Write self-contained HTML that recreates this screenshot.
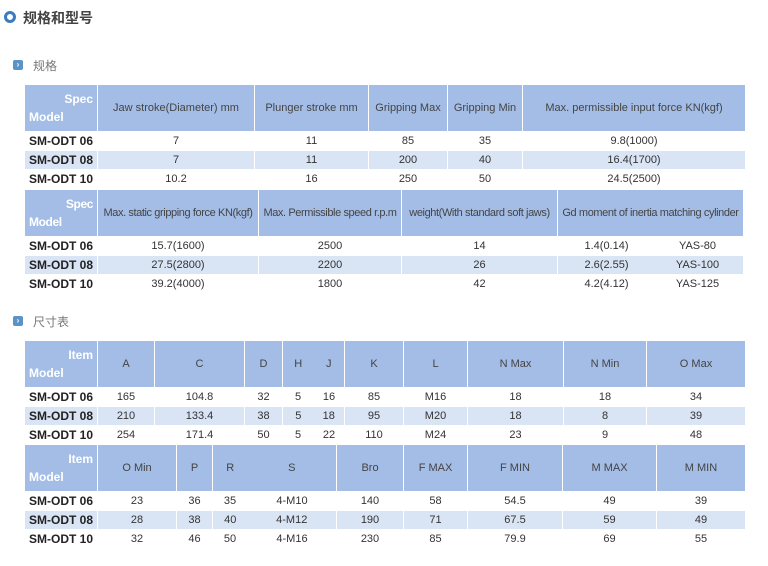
<!DOCTYPE html>
<html><head><meta charset="utf-8"><style>
body{margin:0;width:768px;height:566px;background:#fff;position:relative;font-family:"Liberation Sans","Noto Sans CJK SC",sans-serif;overflow:hidden}
.t{position:absolute;left:24px;border-collapse:collapse;table-layout:fixed;font-size:11px;color:#333}
.t td{border:1px solid #fff;padding:0;text-align:center;white-space:nowrap;overflow:hidden}
.t tr.h td{background:#a3bde6;height:46px;color:#444}
.t tr.r td{height:18px}
.t tr.s td{background:#d9e4f5}
.t td.m{font-weight:bold;font-size:12px;color:#222;text-align:left;padding-left:4px}
.t tr.h td.m{color:#fff;text-align:left;padding:0 4px;line-height:18px}
.t2 tr.h td{letter-spacing:-0.4px}
.hd{position:absolute;font-size:12px;color:#777}
.ic{position:absolute;width:10px;height:10px;background:#5b93c6;border-radius:2px;color:#fff;font-size:8px;line-height:10px;text-align:center;font-weight:bold}
</style></head><body>
<div style="position:absolute;left:4px;top:11px;width:6px;height:6px;border:3px solid #3b7cc0;border-radius:50%"></div>
<div style="position:absolute;left:23px;top:8px;font-size:14px;font-weight:bold;color:#444">规格和型号</div>
<div class="ic" style="left:13px;top:60px">›</div><div class="hd" style="left:33px;top:57px">规格</div>
<div class="ic" style="left:13px;top:316px">›</div><div class="hd" style="left:33px;top:313px">尺寸表</div>

<table class="t" style="top:84px;width:722px">
<colgroup><col style="width:73px"><col style="width:157px"><col style="width:114px"><col style="width:79px"><col style="width:75px"><col></colgroup>
<tr class="h"><td class="m"><div style="text-align:right">Spec</div>Model</td><td>Jaw stroke(Diameter) mm</td><td>Plunger stroke mm</td><td>Gripping Max</td><td>Gripping Min</td><td>Max. permissible input force KN(kgf)</td></tr>
<tr class="r"><td class="m">SM-ODT 06</td><td>7</td><td>11</td><td>85</td><td>35</td><td>9.8(1000)</td></tr>
<tr class="r s"><td class="m">SM-ODT 08</td><td>7</td><td>11</td><td>200</td><td>40</td><td>16.4(1700)</td></tr>
<tr class="r"><td class="m">SM-ODT 10</td><td>10.2</td><td>16</td><td>250</td><td>50</td><td>24.5(2500)</td></tr>
</table>

<table class="t t2" style="top:189px;width:720px">
<colgroup><col style="width:73px"><col style="width:161px"><col style="width:143px"><col style="width:156px"><col></colgroup>
<tr class="h"><td class="m"><div style="text-align:right">Spec</div>Model</td><td>Max. static gripping force KN(kgf)</td><td>Max. Permissible speed r.p.m</td><td>weight(With standard soft jaws)</td><td><span>Gd moment of inertia</span> <span>matching cylinder</span></td></tr>
<tr class="r"><td class="m">SM-ODT 06</td><td>15.7(1600)</td><td>2500</td><td>14</td><td><span style="display:inline-block;width:94px">1.4(0.14)</span><span style="display:inline-block;width:88px">YAS-80</span></td></tr>
<tr class="r s"><td class="m">SM-ODT 08</td><td>27.5(2800)</td><td>2200</td><td>26</td><td><span style="display:inline-block;width:94px">2.6(2.55)</span><span style="display:inline-block;width:88px">YAS-100</span></td></tr>
<tr class="r"><td class="m">SM-ODT 10</td><td>39.2(4000)</td><td>1800</td><td>42</td><td><span style="display:inline-block;width:94px">4.2(4.12)</span><span style="display:inline-block;width:88px">YAS-125</span></td></tr>
</table>

<table class="t" style="top:340px;width:722px">
<colgroup><col style="width:73px"><col style="width:57px"><col style="width:90px"><col style="width:38px"><col style="width:31px"><col style="width:31px"><col style="width:59px"><col style="width:64px"><col style="width:96px"><col style="width:83px"><col></colgroup>
<tr class="h"><td class="m"><div style="text-align:right">Item</div>Model</td><td>A</td><td>C</td><td>D</td><td style="border-right:0">H</td><td style="border-left:0">J</td><td>K</td><td>L</td><td>N Max</td><td>N Min</td><td>O Max</td></tr>
<tr class="r"><td class="m">SM-ODT 06</td><td>165</td><td>104.8</td><td>32</td><td>5</td><td>16</td><td>85</td><td>M16</td><td>18</td><td>18</td><td>34</td></tr>
<tr class="r s"><td class="m">SM-ODT 08</td><td>210</td><td>133.4</td><td>38</td><td style="border-right:0">5</td><td style="border-left:0">18</td><td>95</td><td>M20</td><td>18</td><td>8</td><td>39</td></tr>
<tr class="r"><td class="m">SM-ODT 10</td><td>254</td><td>171.4</td><td>50</td><td>5</td><td>22</td><td>110</td><td>M24</td><td>23</td><td>9</td><td>48</td></tr>
</table>

<table class="t" style="top:444px;width:722px">
<colgroup><col style="width:73px"><col style="width:79px"><col style="width:36px"><col style="width:35px"><col style="width:89px"><col style="width:67px"><col style="width:64px"><col style="width:95px"><col style="width:94px"><col></colgroup>
<tr class="h"><td class="m"><div style="text-align:right">Item</div>Model</td><td>O Min</td><td>P</td><td style="border-right:0">R</td><td style="border-left:0">S</td><td>Bro</td><td>F MAX</td><td>F MIN</td><td>M MAX</td><td>M MIN</td></tr>
<tr class="r"><td class="m">SM-ODT 06</td><td>23</td><td>36</td><td>35</td><td>4-M10</td><td>140</td><td>58</td><td>54.5</td><td>49</td><td>39</td></tr>
<tr class="r s"><td class="m">SM-ODT 08</td><td>28</td><td>38</td><td style="border-right:0">40</td><td style="border-left:0">4-M12</td><td>190</td><td>71</td><td>67.5</td><td>59</td><td>49</td></tr>
<tr class="r"><td class="m">SM-ODT 10</td><td>32</td><td>46</td><td>50</td><td>4-M16</td><td>230</td><td>85</td><td>79.9</td><td>69</td><td>55</td></tr>
</table>
</body></html>
